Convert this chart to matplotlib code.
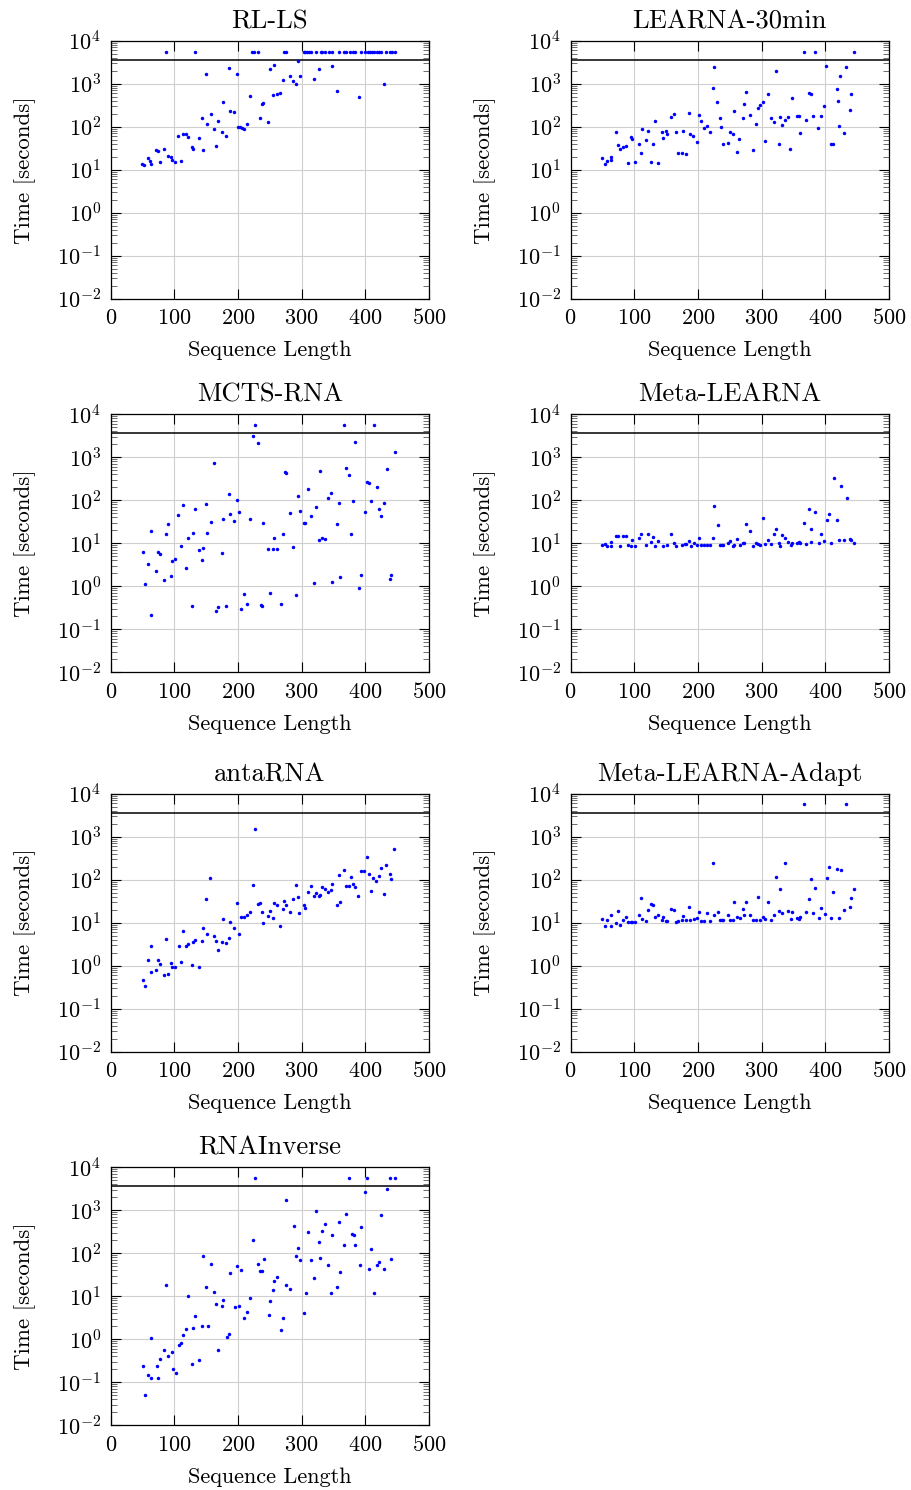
import numpy as np
import matplotlib
matplotlib.use("Agg")
import matplotlib.pyplot as plt

plt.rcParams["font.family"] = ["cmr10", "Liberation Serif", "DejaVu Serif"]
plt.rcParams["mathtext.fontset"] = "cm"
plt.rcParams["axes.formatter.use_mathtext"] = True
plt.rcParams["font.size"] = 16

TIME_LIMIT = 3600      # one hour budget (black line)
TIMEOUT_VALUE = 5600   # where timed-out runs are drawn

# (sequence length, time in seconds)
rlls = [(295, 3360), (257, 2710), (251, 2150), (186, 2270), (150, 1700), (199, 1640), (327, 2220),
        (348, 2560), (297, 1530), (282, 1500), (271, 1230), (287, 1150), (291, 977), (319, 1300),
        (355, 659), (390, 478), (429, 977), (219, 513), (255, 541), (262, 582), (266, 614), (238, 346),
        (240, 352), (177, 378), (188, 229), (194, 217), (143, 160), (157, 199), (152, 116), (168, 136),
        (162, 89), (175, 77), (181, 62), (235, 163), (247, 127), (200, 97), (203, 97), (206, 95),
        (209, 87), (214, 116), (106, 60), (113, 67), (118, 69), (121, 59), (138, 56), (166, 35),
        (145, 29), (127, 33), (129, 31), (71, 29), (74, 27), (83, 30), (58, 19), (90, 21), (95, 20),
        (97, 16.5), (101, 15.1), (110, 16.2), (78, 15.4), (62, 15.7), (64, 13.8), (49, 13.8), (53, 13.1)]
rlls_timeout = [87, 132, 222, 225, 231, 273, 276, 303, 305, 308, 311, 315, 323, 330, 332, 337, 343,
                347, 359, 367, 370, 376, 380, 383, 393, 400, 404, 407, 410, 413, 419, 422, 425, 433,
                439, 442, 446]

learna = [(226, 2390), (323, 1995), (402, 2520), (433, 2480), (424, 1500), (418, 733), (441, 561),
          (439, 246), (420, 399), (398, 305), (421, 105), (429, 72), (409, 40), (412, 39), (223, 774),
          (230, 378), (275, 625), (273, 340), (310, 561), (303, 378), (297, 328), (295, 269), (348, 460),
          (374, 614), (377, 561), (282, 192), (271, 163), (257, 233), (235, 160), (201, 192), (205, 136),
          (209, 95), (214, 103), (219, 76), (237, 97), (291, 118), (315, 163), (319, 129), (329, 166),
          (332, 112), (337, 142), (341, 166), (355, 182), (359, 182), (370, 142), (381, 175), (393, 182),
          (389, 94), (360, 70), (306, 46), (327, 40), (345, 31), (286, 28), (251, 76), (255, 66),
          (265, 51), (240, 40), (247, 41), (262, 26), (199, 43), (193, 60), (188, 69), (177, 81),
          (166, 74), (175, 25), (168, 24), (181, 23), (186, 206), (162, 195), (157, 166), (150, 80),
          (152, 69), (143, 76), (145, 54), (132, 134), (121, 80), (113, 90), (118, 50), (129, 40),
          (107, 39), (110, 25), (126, 15.4), (137, 14.6), (101, 15.1), (90, 14.6), (95, 59), (97, 53),
          (87, 35), (83, 33), (78, 31), (74, 37), (71, 77), (63, 19.4), (64, 16.8), (58, 16.2),
          (50, 18.4), (54, 13.8)]
learna_timeout = [366, 384, 445]

mcts = [(223, 3130), (231, 2190), (384, 2320), (446, 1310), (162, 726), (274, 465), (276, 432),
        (329, 473), (370, 555), (375, 395), (434, 536), (403, 262), (406, 258), (418, 201), (310, 184),
        (346, 151), (342, 113), (295, 124), (186, 138), (199, 100), (359, 85), (381, 95), (409, 97),
        (430, 84), (421, 62), (425, 44), (399, 53), (323, 68), (315, 42), (297, 56), (282, 50),
        (303, 29), (306, 30), (355, 28), (378, 16.8), (327, 12), (332, 13), (337, 12.8), (271, 16.8),
        (257, 13.3), (240, 29), (219, 37), (201, 54), (194, 32.5), (188, 47), (177, 36), (150, 82),
        (132, 62), (113, 78), (106, 46), (90, 28), (87, 16.5), (63, 19), (157, 32), (152, 17.1),
        (129, 17.4), (121, 13.3), (110, 8.7), (101, 4.4), (97, 3.8), (95, 1.7), (83, 1.4), (71, 2.3),
        (58, 3.3), (50, 6.3), (54, 1.1), (64, 0.22), (74, 6.1), (78, 5.6), (118, 2.6), (127, 0.34),
        (138, 6.8), (145, 7.8), (143, 4.0), (166, 0.27), (168, 0.33), (175, 5.9), (181, 0.34),
        (209, 0.66), (205, 0.29), (214, 0.39), (236, 0.36), (238, 0.34), (247, 7.3), (255, 7.3),
        (262, 7.3), (251, 0.71), (267, 0.39), (287, 8.2), (291, 0.64), (319, 1.2), (348, 1.26),
        (360, 1.6), (393, 1.87), (390, 0.93), (441, 1.8), (439, 1.46)]
mcts_timeout = [226, 366, 413]

meta = [(414, 325), (425, 212), (434, 115), (226, 73), (231, 26), (374, 64), (384, 53), (403, 35),
        (406, 49), (418, 34), (275, 28), (282, 19.4), (302, 38), (323, 21.5), (319, 16.2), (366, 30),
        (377, 21), (393, 16.5), (332, 15.3), (337, 13.1), (157, 16.8), (71, 15.1), (74, 15), (83, 15),
        (87, 14.5), (110, 16), (121, 16.2), (129, 14.3), (107, 13.5), (97, 12), (201, 13.5),
        (223, 13.1), (262, 12.8), (310, 11.8), (250, 11.1), (186, 11.3), (138, 11.1), (126, 10.9),
        (63, 10.5), (378, 10.9), (398, 11.3), (421, 12), (430, 11.7), (439, 12.6), (441, 12),
        (445, 10.2), (342, 10.5), (348, 10.4), (355, 10.4), (359, 10.7), (360, 10.1),
        (50, 9.0), (54, 9.5), (58, 8.8), (64, 8.8), (78, 8.7), (90, 9.0), (95, 8.5), (101, 8.5),
        (118, 9.2), (132, 8.7), (145, 8.7), (152, 9.3), (162, 10), (166, 8.8), (175, 9.0), (179, 9.5),
        (181, 9.5), (189, 8.8), (194, 10), (199, 9.0), (205, 9.3), (209, 9.3), (214, 9.3), (219, 9.0),
        (235, 9.3), (238, 9.0), (240, 9.0), (247, 10.2), (255, 8.8), (257, 9.0), (266, 9.2), (271, 10),
        (273, 10), (287, 8.8), (291, 10.4), (295, 9.8), (297, 9.2), (306, 9.7), (315, 9.5), (327, 10),
        (329, 8.7), (346, 9.3), (370, 9.5), (390, 10), (409, 10.2)]
meta_timeout = []

anta = [(226, 1480), (445, 516), (403, 330), (433, 223), (366, 171), (393, 156), (398, 156),
        (406, 138), (425, 183), (439, 135), (359, 126), (377, 113), (412, 109), (421, 119), (441, 104),
        (417, 91), (156, 107), (223, 75), (291, 74), (315, 70), (348, 78), (370, 72), (374, 71),
        (381, 78), (384, 69), (332, 66), (337, 60), (346, 58), (409, 53), (310, 51), (323, 49),
        (341, 51), (319, 41), (327, 42), (329, 43), (389, 41), (429, 46), (287, 36), (295, 39),
        (360, 30), (355, 25), (150, 35), (199, 28), (231, 27), (235, 28), (257, 28), (262, 25),
        (273, 31), (276, 25), (271, 21), (303, 26), (306, 22), (282, 17.7), (296, 17), (251, 19),
        (255, 12.6), (247, 14.5), (238, 17.4), (240, 9.6), (266, 8.5), (219, 18), (214, 15.3),
        (209, 13.5), (205, 13.3), (201, 5.4), (193, 7.4), (188, 10.4), (177, 12), (186, 4.4),
        (181, 3.3), (175, 3.5), (168, 2.3), (166, 3.7), (162, 4.8), (152, 5.4), (145, 7.4), (143, 3.7),
        (132, 4.0), (129, 3.5), (121, 3.2), (118, 2.8), (107, 2.8), (113, 6.5), (110, 1.2),
        (127, 1.04), (138, 0.95), (87, 4.1), (95, 1.15), (97, 0.93), (101, 0.95), (90, 0.64),
        (83, 0.6), (74, 1.36), (78, 1.09), (71, 0.81), (64, 0.7), (63, 2.9), (58, 1.38), (50, 0.46),
        (54, 0.34)]
anta_timeout = []

adapt = [(223, 248), (337, 248), (323, 117), (406, 197), (418, 180), (425, 165), (377, 105),
         (403, 107), (329, 62), (384, 65), (445, 62), (413, 52), (441, 38), (374, 35), (110, 37.5),
         (127, 27), (129, 25), (295, 40), (257, 30), (276, 30), (310, 30), (121, 19.4), (157, 21),
         (162, 19.4), (186, 23), (271, 21), (74, 18.7), (107, 15.1), (63, 15.1), (87, 13.5),
         (132, 13.8), (138, 14.8), (145, 13.5), (177, 14.3), (201, 17.4), (214, 17), (226, 14.8),
         (231, 18), (247, 14.8), (262, 13.8), (273, 14.8), (282, 14.8), (303, 13.5), (319, 14.8),
         (327, 18.3), (332, 17), (342, 18.3), (348, 17.4), (355, 13.1), (360, 13.3), (370, 18),
         (381, 16.5), (390, 13.1), (393, 22), (399, 15.6), (409, 12.8), (421, 12.8), (430, 19.7),
         (439, 22.7), (50, 11.9), (54, 8.5), (58, 11.3), (64, 8.4), (71, 9.6), (78, 8.8), (83, 11.5),
         (90, 10.5), (95, 10.2), (97, 10.3), (101, 10.2), (113, 12.2), (118, 10.7), (143, 11.7),
         (150, 11.1), (152, 11.1), (166, 10.5), (168, 10.7), (175, 11.5), (181, 11.3), (188, 11.7),
         (194, 12.4), (199, 12.6), (205, 10.9), (209, 10.9), (219, 10.7), (235, 11.3), (238, 11.3),
         (240, 11.3), (251, 11.3), (255, 11.3), (266, 13.1), (287, 11.7), (291, 11.7), (297, 11.7),
         (306, 11.9), (315, 11.3), (346, 11.9), (359, 12.4)]
adapt_timeout = [366, 433]

inverse = [(434, 3080), (399, 2620), (276, 1740), (323, 982), (370, 820), (425, 778), (359, 535),
           (337, 472), (393, 417), (288, 431), (310, 319), (332, 330), (348, 262), (379, 277),
           (382, 262), (327, 180), (366, 153), (384, 153), (409, 126), (295, 133), (223, 204),
           (291, 85), (298, 70), (315, 71), (329, 79), (342, 54), (391, 53), (406, 43), (418, 53),
           (421, 64), (430, 42), (441, 72), (360, 36), (319, 27), (355, 16.5), (346, 11.7), (307, 11.7),
           (413, 11.9), (145, 88), (157, 57), (232, 56), (241, 72), (235, 38), (238, 38), (199, 52),
           (205, 40), (188, 34), (262, 28), (257, 23), (275, 18.3), (282, 15.1), (255, 14.3), (87, 18),
           (150, 16.2), (163, 12.4), (121, 10), (177, 8.1), (166, 6.6), (175, 6.0), (195, 5.5),
           (201, 6.0), (219, 9.0), (251, 7.8), (214, 4.4), (209, 3.1), (248, 3.7), (271, 3.2),
           (267, 1.65), (303, 4.1), (133, 3.4), (144, 2.0), (153, 2.0), (130, 1.84), (119, 1.7),
           (114, 1.28), (110, 0.81), (108, 0.75), (182, 1.15), (186, 1.3), (169, 0.56), (64, 1.07),
           (84, 0.55), (96, 0.51), (90, 0.42), (78, 0.35), (72, 0.24), (50, 0.24), (128, 0.27),
           (139, 0.33), (98, 0.2), (102, 0.165), (59, 0.146), (63, 0.128), (75, 0.128), (54, 0.05)]
inverse_timeout = [227, 375, 403, 439, 446]

panels = [
    ("RL-LS", rlls, rlls_timeout),
    ("LEARNA-30min", learna, learna_timeout),
    ("MCTS-RNA", mcts, mcts_timeout),
    ("Meta-LEARNA", meta, meta_timeout),
    ("antaRNA", anta, anta_timeout),
    ("Meta-LEARNA-Adapt", adapt, adapt_timeout),
    ("RNAInverse", inverse, inverse_timeout),
]

fig = plt.figure(figsize=(9.11, 14.90), dpi=100)

lefts = [0.1215, 0.6263]
bottoms = [0.7995, 0.5488, 0.2942, 0.0434]
w, h = 0.3494, 0.1732

for i, (name, pts, tout) in enumerate(panels):
    ax = fig.add_axes([lefts[i % 2], bottoms[i // 2], w, h])
    pts = np.array(pts, dtype=float)
    ax.set_yscale("log")
    ax.set_xlim(0, 500)
    ax.set_ylim(1e-2, 1e4)
    ax.grid(True, which="major", color="#cfcfcf", linewidth=0.8)
    ax.set_axisbelow(True)
    ax.axhline(TIME_LIMIT, color="black", linewidth=1.1, zorder=3)
    ax.plot(pts[:, 0], pts[:, 1], "o", color="blue", markersize=2.5, markeredgewidth=0, zorder=4)
    if tout:
        ax.plot(tout, [TIMEOUT_VALUE] * len(tout), "o", color="blue", markersize=2.5,
                markeredgewidth=0, zorder=4)
    ax.set_xticks([0, 100, 200, 300, 400, 500])
    ax.set_yticks([1e-2, 1e-1, 1e0, 1e1, 1e2, 1e3, 1e4])
    ax.yaxis.set_minor_locator(matplotlib.ticker.LogLocator(base=10, subs=np.arange(2, 10), numticks=20))
    ax.yaxis.set_minor_formatter(matplotlib.ticker.NullFormatter())
    ax.tick_params(which="both", direction="in", top=True, right=True, pad=7)
    ax.tick_params(which="major", length=7, width=0.8)
    ax.tick_params(which="minor", length=4, width=0.6, color="#555555")
    for s in ax.spines.values():
        s.set_linewidth(0.9)
    ax.set_title(name, pad=9)
    ax.set_xlabel("Sequence Length", labelpad=9)
    ax.set_ylabel("Time [seconds]", labelpad=15, fontsize=16.5)

fig.savefig("out.png", dpi=100)
